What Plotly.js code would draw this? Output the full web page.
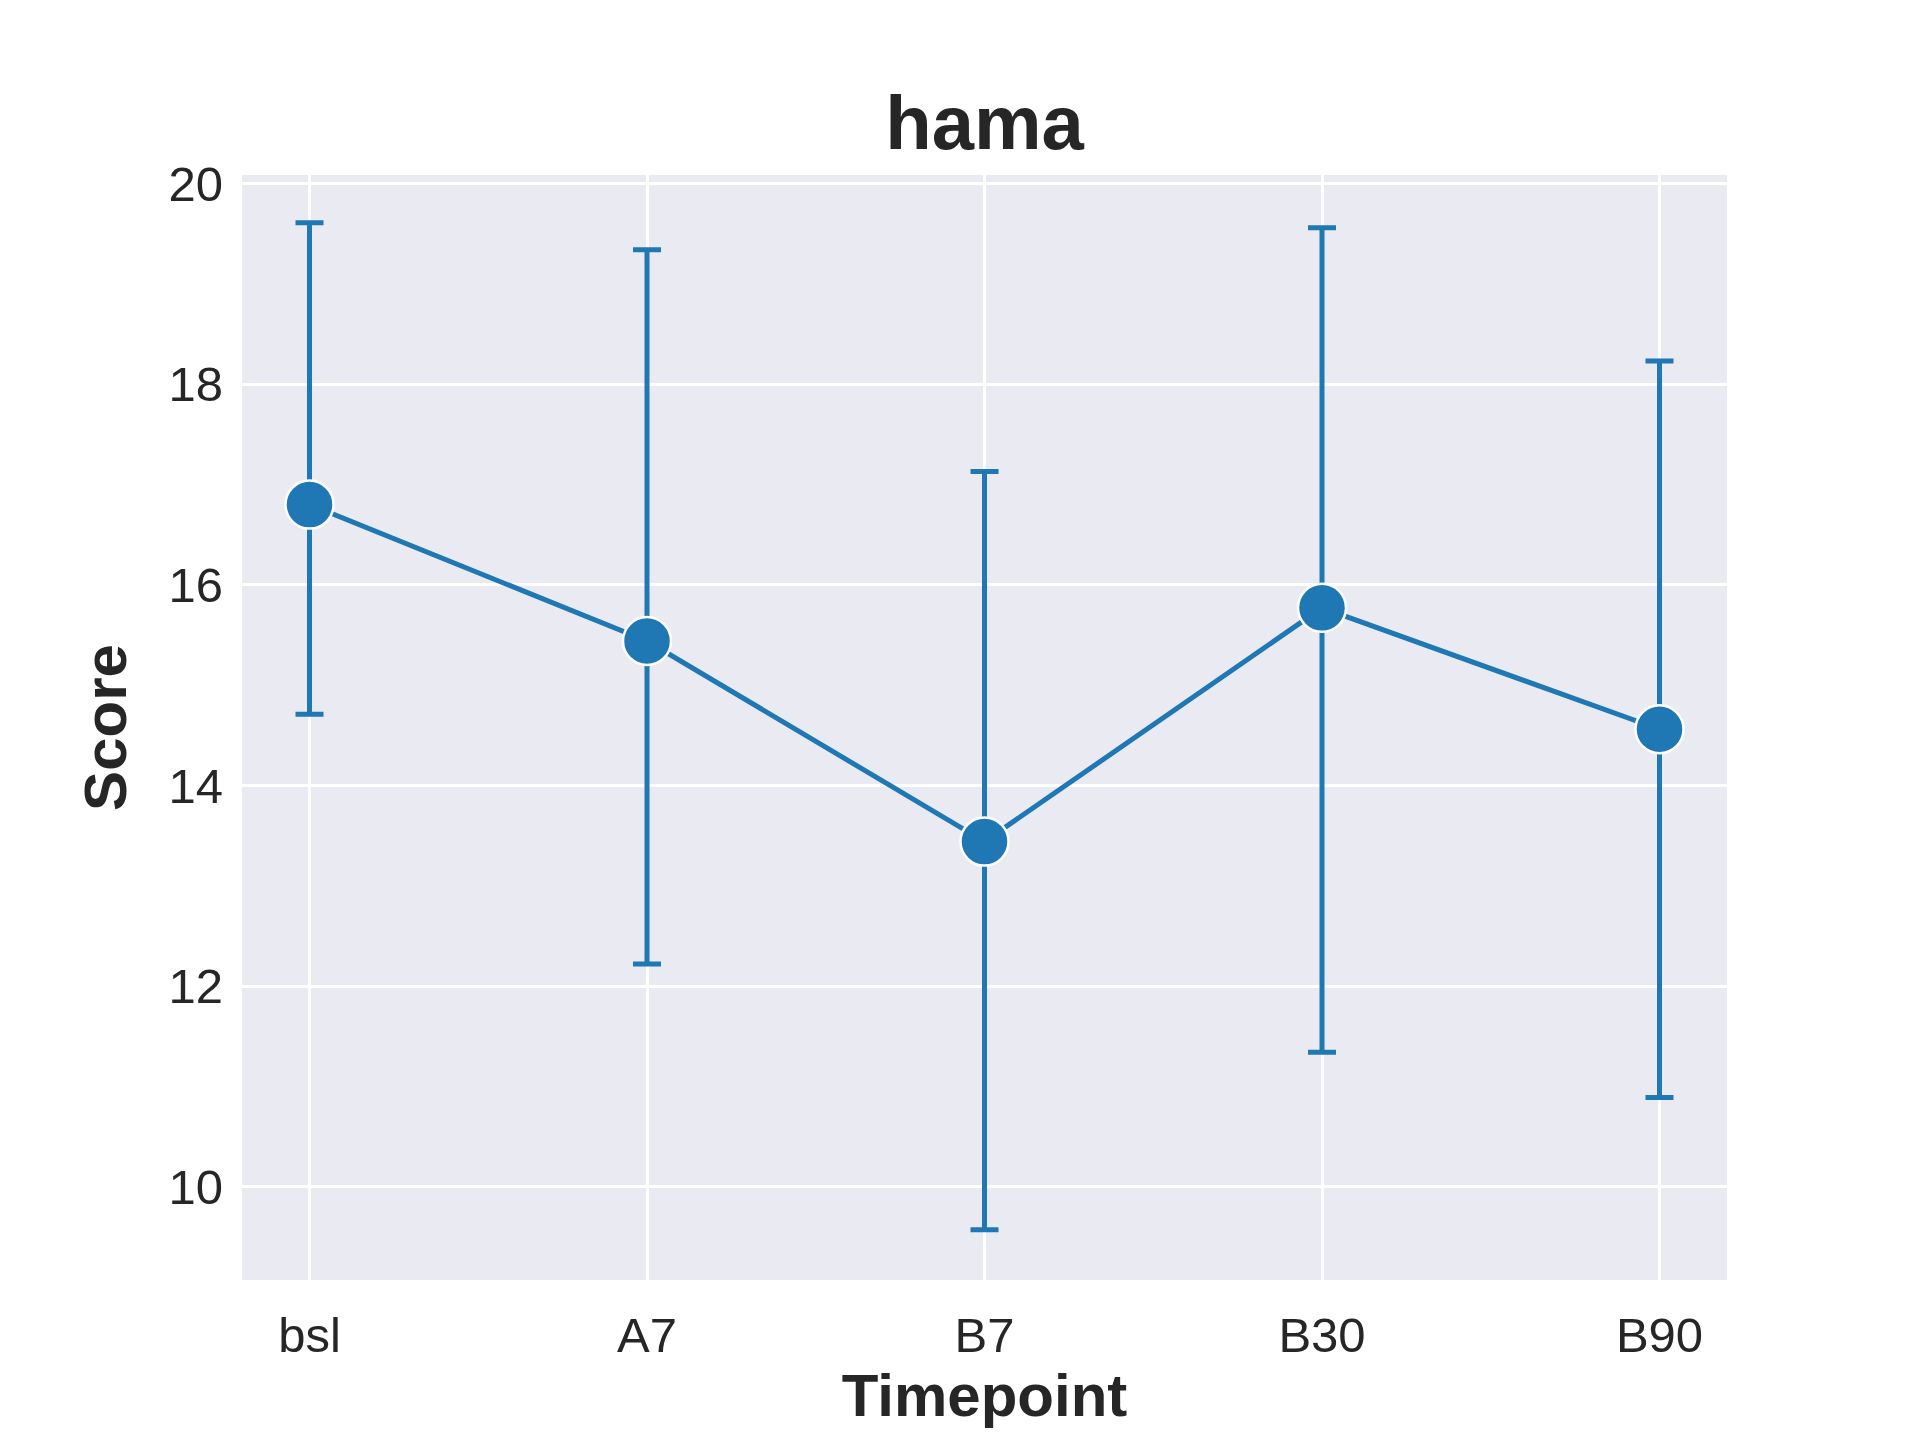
<!DOCTYPE html>
<html><head><script src="https://cdn.plot.ly/plotly-3.0.1.min.js"></script>
<style>body{margin:0}</style></head><body>
<div id="c" style="width:1920px;height:1440px"></div>
<script>
const timepoints = ["bsl","A7","B7","B30","B90"];
const means = [16.80,15.44,13.44,15.77,14.56];
const upper = [19.61,19.34,17.13,19.56,18.23];
const lower = [14.71,12.22,9.57,11.34,10.89];
const errPlus = means.map((m,i)=>upper[i]-m);
const errMinus = means.map((m,i)=>m-lower[i]);
const blue = "#1f77b4";
Plotly.newPlot("c",[{
  x: timepoints, y: means, type:"scatter", mode:"lines+markers",
  line:{color:blue,width:5},
  marker:{color:blue,size:48,line:{color:"white",width:2.5}},
  error_y:{type:"data",symmetric:false,array:errPlus,arrayminus:errMinus,color:blue,thickness:5,width:14}
}],{
  width:1920,height:1440,paper_bgcolor:"white",plot_bgcolor:"#eaeaf2",
  margin:{l:242,r:193,t:175,b:160},
  font:{family:"Liberation Sans, Arial, sans-serif",color:"#262626"},
  title:{text:"<b>hama</b>",font:{size:76,color:"#262626"},xref:"paper",x:0.5,xanchor:"center",y:0.915,yanchor:"middle"},
  xaxis:{type:"category",range:[-0.2,4.2],showgrid:true,gridcolor:"white",gridwidth:2.5,zeroline:false,
    tickfont:{size:49},ticks:"",ticklen:0,ticklabelstandoff:22,
    title:{text:"<b>Timepoint</b>",font:{size:60},standoff:4}},
  yaxis:{range:[9.07,20.085],tickvals:[10,12,14,16,18,20],showgrid:true,gridcolor:"white",gridwidth:2.5,zeroline:false,
    tickfont:{size:49},ticks:"",ticklabelstandoff:18,
    title:{text:"<b>Score</b>",font:{size:60},standoff:22}},
  showlegend:false
},{displayModeBar:false});
</script></body></html>
